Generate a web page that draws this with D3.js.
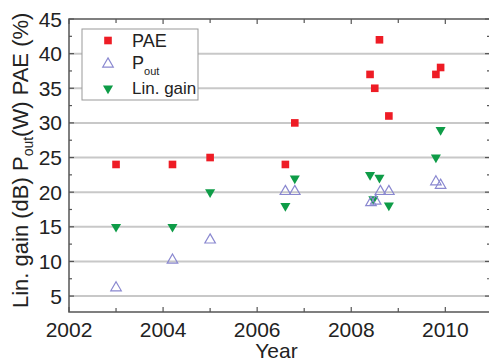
<!DOCTYPE html>
<html>
<head>
<meta charset="utf-8">
<script src="https://cdn.jsdelivr.net/npm/d3@7"></script>
<style>
  body { margin: 0; background: #fff; }
  text { font-family: "Liberation Sans", Arial, sans-serif; fill: #222; }
</style>
</head>
<body>
<div id="chart"></div>
<script>
// values
const paeYears  = [2003, 2004.2, 2005, 2006.6, 2006.8, 2008.4, 2008.5, 2008.6, 2008.8, 2009.8, 2009.9];
const paeValues = [24, 24, 25, 24, 30, 37, 35, 42, 31, 37, 38];

const poutYears  = [2003, 2004.2, 2005, 2006.6, 2006.8, 2008.42, 2008.52, 2008.62, 2008.8, 2009.8, 2009.9];
const poutValues = [6.2, 10.2, 13.1, 20.1, 20.1, 18.5, 18.7, 20.1, 20.1, 21.5, 21.0];

const gainYears  = [2003, 2004.2, 2005, 2006.6, 2006.8, 2008.4, 2008.6, 2008.47, 2008.8, 2009.8, 2009.9];
const gainValues = [15, 15, 20, 18, 22, 22.5, 22.1, 19, 18.1, 25, 29];

const xTicks = [2002, 2004, 2006, 2008, 2010];
const xMinor = [2003, 2005, 2007, 2009];
const yTicks = [5, 10, 15, 20, 25, 30, 35, 40, 45];
const yMinor = [2.5, 7.5, 12.5, 17.5, 22.5, 27.5, 32.5, 37.5, 42.5];

const width = 489, height = 362;
const plotLeft = 69, plotRight = 490, plotTop = 19, plotBottom = 312;

const svg = d3.select('#chart').append('svg')
    .attr('width', width)
    .attr('height', height);

const x = d3.scaleLinear().domain([2002, 2010.95]).range([plotLeft, plotRight]);
const y = d3.scaleLinear().domain([2.7, 45]).range([plotBottom, plotTop]);

// grid
svg.append('g').selectAll('line')
    .data(yTicks.filter(v => v < 45))
    .join('line')
    .attr('x1', plotLeft).attr('x2', plotRight)
    .attr('y1', d => y(d)).attr('y2', d => y(d))
    .attr('stroke', '#c8c8c8')
    .attr('stroke-width', 2);

// ticks (all inward)
const tickG = svg.append('g').attr('stroke', '#555').attr('stroke-width', 1.2);
xTicks.concat(xMinor).forEach(v => {
    const len = xTicks.includes(v) ? 5 : 4;
    tickG.append('line').attr('x1', x(v)).attr('x2', x(v)).attr('y1', plotBottom).attr('y2', plotBottom - len);
    tickG.append('line').attr('x1', x(v)).attr('x2', x(v)).attr('y1', plotTop).attr('y2', plotTop + len);
});
yTicks.concat(yMinor).filter(v => v > 2.7).forEach(v => {
    const len = yTicks.includes(v) ? 5 : 3;
    tickG.append('line').attr('x1', plotLeft).attr('x2', plotLeft + len).attr('y1', y(v)).attr('y2', y(v));
    tickG.append('line').attr('x1', plotRight).attr('x2', plotRight - len).attr('y1', y(v)).attr('y2', y(v));
});

// frame
svg.append('rect')
    .attr('x', plotLeft).attr('y', plotTop)
    .attr('width', plotRight - plotLeft).attr('height', plotBottom - plotTop)
    .attr('fill', 'none')
    .attr('stroke', '#555')
    .attr('stroke-width', 1.5);

// tick labels
svg.append('g').selectAll('text')
    .data(xTicks)
    .join('text')
    .attr('x', d => x(d))
    .attr('y', 337)
    .attr('text-anchor', 'middle')
    .attr('font-size', 21)
    .text(d => d);

svg.append('g').selectAll('text')
    .data(yTicks)
    .join('text')
    .attr('x', plotLeft - 7)
    .attr('y', d => y(d) + 7.5)
    .attr('text-anchor', 'end')
    .attr('font-size', 21)
    .text(d => d);

// axis titles
svg.append('text')
    .attr('x', (plotLeft + plotRight) / 2 - 3)
    .attr('y', 358)
    .attr('text-anchor', 'middle')
    .attr('font-size', 21)
    .text('Year');

const yTitle = svg.append('text')
    .attr('transform', 'translate(28,308) rotate(-90)')
    .attr('font-size', 22);
yTitle.append('tspan').text('Lin. gain (dB) P');
yTitle.append('tspan').attr('font-size', 14).attr('dy', 5).text('out');
yTitle.append('tspan').attr('dy', -5).text('(W)  PAE (%)');

// markers
const square = d3.symbol().type(d3.symbolSquare).size(58);
const tri = d3.symbol().type(d3.symbolTriangle).size(48);
const triDown = d3.symbol().type(d3.symbolTriangle).size(44);

const pae = paeYears.map((yr, i) => [yr, paeValues[i]]);
const pout = poutYears.map((yr, i) => [yr, poutValues[i]]);
const gain = gainYears.map((yr, i) => [yr, gainValues[i]]);

svg.append('g').selectAll('path')
    .data(gain)
    .join('path')
    .attr('d', triDown)
    .attr('transform', d => `translate(${x(d[0])},${y(d[1])}) rotate(180)`)
    .attr('fill', '#0e9c47');

svg.append('g').selectAll('path')
    .data(pout)
    .join('path')
    .attr('d', tri)
    .attr('transform', d => `translate(${x(d[0])},${y(d[1])})`)
    .attr('fill', 'none')
    .attr('stroke', '#8a88d0')
    .attr('stroke-width', 1.2);

svg.append('g').selectAll('path')
    .data(pae)
    .join('path')
    .attr('d', square)
    .attr('transform', d => `translate(${x(d[0])},${y(d[1])})`)
    .attr('fill', '#ee1c25');

// legend
const legend = svg.append('g');
legend.append('rect')
    .attr('x', 82).attr('y', 29)
    .attr('width', 116).attr('height', 71)
    .attr('fill', '#fff')
    .attr('stroke', '#999')
    .attr('stroke-width', 1);
legend.append('path').attr('d', square).attr('transform', 'translate(108,40.5)').attr('fill', '#ee1c25');
legend.append('path').attr('d', tri).attr('transform', 'translate(108,64)')
    .attr('fill', 'none').attr('stroke', '#8a88d0').attr('stroke-width', 1.2);
legend.append('path').attr('d', triDown).attr('transform', 'translate(108,88.5) rotate(180)').attr('fill', '#0e9c47');

legend.append('text').attr('x', 132).attr('y', 47).attr('font-size', 18).text('PAE');
const poutLabel = legend.append('text').attr('x', 132).attr('y', 69).attr('font-size', 18);
poutLabel.append('tspan').text('P');
poutLabel.append('tspan').attr('font-size', 11).attr('dy', 6).text('out');
legend.append('text').attr('x', 132).attr('y', 94).attr('font-size', 17).text('Lin. gain');
</script>
</body>
</html>
